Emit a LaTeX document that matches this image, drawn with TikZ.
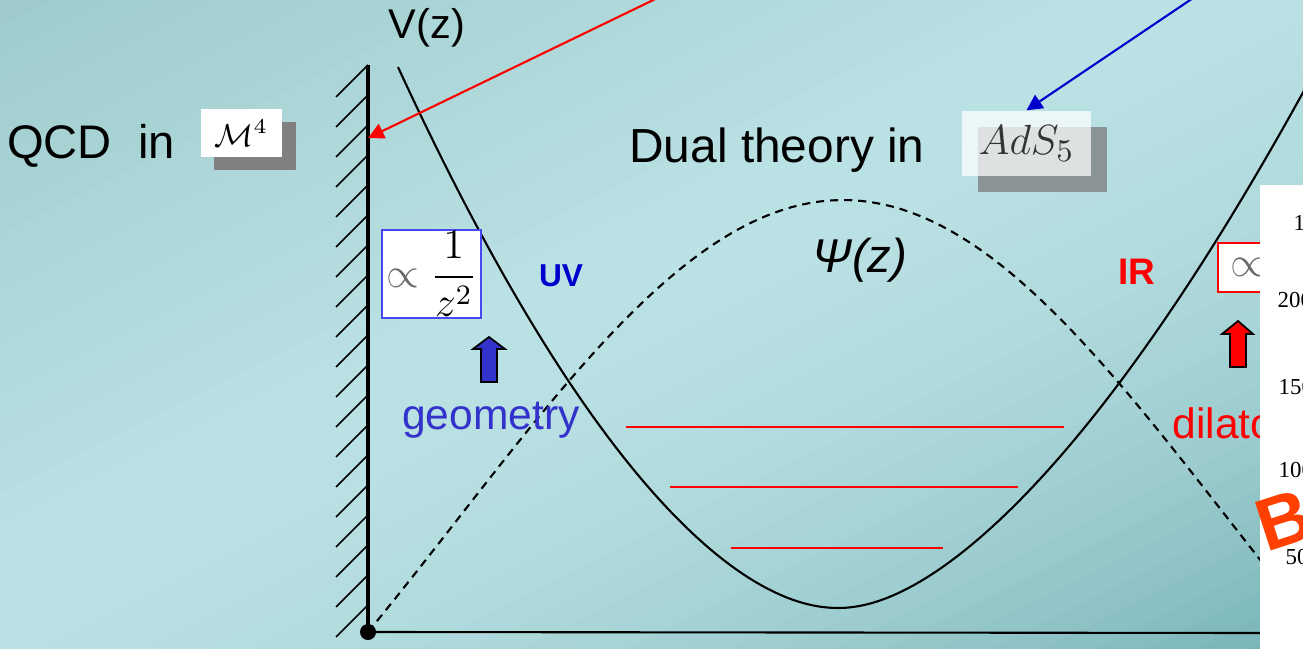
\documentclass[tikz,border=0pt]{standalone}
\usepackage[no-math]{fontspec}
\setmainfont{Liberation Sans}
\newfontfamily\tickfont{Liberation Serif}
\usetikzlibrary{arrows.meta}

\definecolor{bgdark}{RGB}{158,203,206}
\definecolor{bglight}{RGB}{186,225,227}
\definecolor{bgdeep}{RGB}{118,178,180}
\definecolor{geoblue}{RGB}{51,51,204}
\definecolor{uvblue}{RGB}{0,0,204}
\definecolor{boxblue}{RGB}{72,72,240}
\definecolor{shadowgray}{RGB}{128,128,128}
\definecolor{adsshade}{RGB}{138,148,150}
\definecolor{propgray}{RGB}{105,105,105}
\definecolor{borange}{RGB}{255,64,0}

\begin{document}
\begin{tikzpicture}[x=0.01cm, y=-0.01cm,
  every node/.style={inner sep=0pt},
  curve/.style={line width=0.6pt},
  psi/.style={line width=0.6pt, dash pattern=on 2.3pt off 1.7pt},
  level/.style={red, line width=0.6pt},
  hatch/.style={line width=0.5pt},
  wall/.style={line width=1.2pt},
  pointer/.style={line width=0.6pt, -{Triangle[length=4.5pt,width=4.5pt]}},
  dot/.style={circle, fill=black, minimum size=0.16cm},
  mathbox/.style={fill=white, inner sep=0pt},
  txt/.style={font=\fontsize{#1}{#1}\selectfont},
  bold/.style={font=\fontsize{#1}{#1}\selectfont\bfseries},
  tick/.style={font=\tickfont\fontsize{6.5}{7}\selectfont, anchor=west}]

  \useasboundingbox (0,0) rectangle (1303,649);
  \clip (0,0) rectangle (1303,649);
  \foreach \i in {0,...,49} {
    \pgfmathsetmacro{\sa}{\i/25}
    \pgfmathsetmacro{\sb}{(\i+1.1)/25}
    \pgfmathsetmacro{\smid}{(\i+0.5)/25}
    \pgfmathsetmacro{\mix}{\smid<0.85 ? 100*\smid/0.85 : 100*((\smid-0.85)/1.15)^2}
    \ifdim\smid pt<0.85pt \colorlet{stripc}{bglight!\mix!bgdark}\else\colorlet{stripc}{bgdeep!\mix!bglight}\fi
    \fill[stripc] (1303*\sa,0) -- (0,649*\sa) -- (0,649*\sb) -- (1303*\sb,0) -- cycle;
  }

  \coordinate (wtop)    at (368,65);
  \coordinate (wallhit) at (368,138);
  \coordinate (zend)    at (1265,633);
  \coordinate (redsrc)  at (674,-10);
  \coordinate (bluesrc) at (1205,-10);

  \foreach \y in {65,95,...,605}
    \draw[hatch] (368,\y) -- ++(-32,32);
  \node[dot] (o) at (368,632) {};
  \draw[wall] (o.center) -- (wtop);
  \draw[curve] (o.center) -- (zend);

  \draw[curve] plot[domain=398:838, samples=70]
      (\x, {608-41.7*(pow(((838-\x)/100)^2+0.36,0.87)-0.411)})
    -- plot[domain=838:1320, samples=70]
      (\x, {608-45.2*(pow(((\x-838)/100)^2+0.36,0.8)-0.442)});
  \draw[psi] (o.center) -- plot[domain=370:1262, samples=90]
    (\x, {632-432*sin((\x-368)/950*180)*(0.85+0.15*sin((\x-368)/950*180))});

  \draw[level] (626,427) -- (1064,427);
  \draw[level] (670,487) -- (1018,487);
  \draw[level] (731,548) -- (943,548);

  \node[txt=11.8] (vz)  at (427,28)  {V(z)};
  \node[txt=13.4] (qcd) at (91,146)  {QCD~~in};
  \node[txt=13.6] (dual) at (777,150) {Dual theory in};
  \node[font=\fontsize{13.5}{13.5}\selectfont\itshape] (psilab) at (860,260) {Ψ(z)};
  \node[bold=9, text=uvblue] (uv) at (561,276) {UV};
  \node[bold=10.5, text=red] (ir) at (1137,272) {IR};
  \node[txt=12.1, text=geoblue] (geo) at (491,420) {geometry};
  \node[txt=12.1, text=red, anchor=west] (dil) at (1172,423) {dilaton};

  \node[fill=shadowgray, minimum width=0.82cm, minimum height=0.48cm] (mshadow) at (255,146) {};
  \node[mathbox, minimum width=0.81cm, minimum height=0.48cm] (mink) at (241.5,133)
    {\fontsize{9}{9}\selectfont$\mathcal{M}^4$};

  \node[fill=adsshade, minimum width=1.29cm, minimum height=0.65cm] (adsshadow) at (1042.5,159.5) {};
  \node[fill=white, fill opacity=0.72, text opacity=1, text=black!80,
    minimum width=1.29cm, minimum height=0.65cm] (ads) at (1026.5,143.5)
    {\fontsize{12.5}{12.5}\selectfont$AdS_5$};

  \node[mathbox, draw=boxblue, line width=0.4pt, minimum width=0.99cm, minimum height=0.88cm]
    (uvform) at (431.5,274)
    {\fontsize{11.5}{13}\selectfont$\textcolor{propgray}{\propto}\;\displaystyle\frac{1}{z^2}$};
  \node[mathbox, draw=red, line width=0.5pt, minimum width=0.83cm, minimum height=0.49cm,
    anchor=west, text width=0.6cm, inner xsep=0.13cm, align=left] (irform) at (1217,267.5)
    {\fontsize{11.5}{13}\selectfont$\textcolor{propgray}{\propto}$};

  \draw[fill=geoblue, line width=0.5pt] (473,349) -- (489,337) -- (505,349) -- (497,349)
    -- (497,382) -- (481,382) -- (481,349) -- cycle;
  \draw[fill=red, line width=0.5pt] (1222,334) -- (1238,321) -- (1253,334) -- (1246,334)
    -- (1246,367) -- (1230,367) -- (1230,334) -- cycle;

  \draw[pointer, red] (redsrc) -- (wallhit);
  \draw[pointer, uvblue] (bluesrc) -- (ads.north);

  \fill[white] (1260,185) rectangle (1310,655);
  \node[tick] (t1)   at (1293,223) {1};
  \node[tick] (t200) at (1277,300) {200};
  \node[tick] (t150) at (1278,387) {150};
  \node[tick] (t100) at (1278,470) {100};
  \node[tick] (t50)  at (1285,557) {50};

  \node[bold=21, text=borange, rotate=18] (bmark) at (1284,520) {B};
\end{tikzpicture}
\end{document}
